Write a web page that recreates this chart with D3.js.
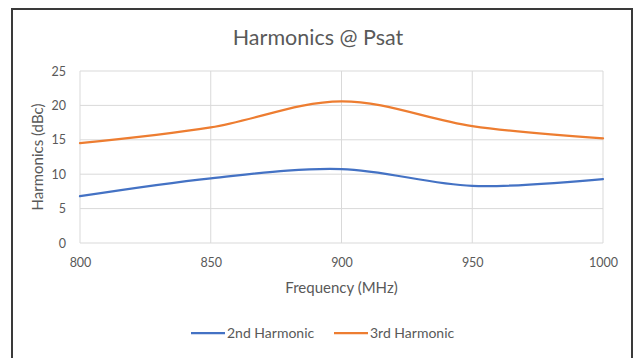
<!DOCTYPE html>
<html>
<head>
<meta charset="utf-8">
<script src="https://cdn.jsdelivr.net/npm/d3@7"></script>
<style>
  html, body { margin: 0; padding: 0; background: #fff; }
  svg { display: block; }
  text { font-family: Lato, "Open Sans", sans-serif; fill: #595959; }
</style>
</head>
<body>
<svg id="chart" width="636" height="358"></svg>
<script>
// Frequency points (MHz) and harmonic levels (dBc)
const frequencies = [800, 850, 900, 950, 1000];
const harmonic2 = [6.8, 9.4, 10.75, 8.3, 9.3];
const harmonic3 = [14.5, 16.8, 20.6, 17.0, 15.2];
const xTicks = [800, 850, 900, 950, 1000];
const yTicks = [0, 5, 10, 15, 20, 25];
const seriesNames = ["2nd Harmonic", "3rd Harmonic"];
const seriesColors = ["#4472C4", "#ED7D31"];

const svg = d3.select("#chart");
const W = 636, H = 358;
const margin = { left: 80, right: 33, top: 71, bottom: 115 };

// Outer chart frame
svg.append("rect")
  .attr("x", 12).attr("y", 9)
  .attr("width", 620).attr("height", 380)
  .attr("fill", "#fff")
  .attr("stroke", "#3a3a3a")
  .attr("stroke-width", 2);

const x = d3.scaleLinear().domain([800, 1000]).range([margin.left, W - margin.right]);
const y = d3.scaleLinear().domain([0, 25]).range([H - margin.bottom, margin.top]);

// Gridlines
const grid = svg.append("g");
grid.selectAll("line.h").data(yTicks).join("line")
  .attr("x1", x(800)).attr("x2", x(1000))
  .attr("y1", d => y(d)).attr("y2", d => y(d))
  .attr("stroke", "#d9d9d9").attr("stroke-width", 1);
grid.selectAll("line.v").data(xTicks).join("line")
  .attr("x1", d => x(d)).attr("x2", d => x(d))
  .attr("y1", y(0)).attr("y2", y(25))
  .attr("stroke", "#d9d9d9").attr("stroke-width", 1);

// Axes (labels only)
const xAxis = svg.append("g")
  .attr("transform", `translate(0,${y(0)})`)
  .call(d3.axisBottom(x).tickValues(xTicks).tickFormat(d3.format("d")).tickSize(0).tickPadding(15));
const yAxis = svg.append("g")
  .attr("transform", `translate(${x(800)},0)`)
  .call(d3.axisLeft(y).tickValues(yTicks).tickSize(0).tickPadding(14));
[xAxis, yAxis].forEach(g => {
  g.select(".domain").remove();
  g.selectAll("text").attr("font-size", 12.5).attr("fill", "#595959")
    .attr("font-family", "Lato, 'Open Sans', sans-serif");
});

// Series lines
const line = d3.line()
  .x(d => x(d[0]))
  .y(d => y(d[1]))
  .curve(d3.curveCardinal.tension(0));
[harmonic2, harmonic3].forEach((vals, i) => {
  svg.append("path")
    .datum(frequencies.map((f, j) => [f, vals[j]]))
    .attr("fill", "none")
    .attr("stroke", seriesColors[i])
    .attr("stroke-width", 2.25)
    .attr("stroke-linecap", "round")
    .attr("d", line);
});

// Title
svg.append("text")
  .attr("x", 318).attr("y", 45)
  .attr("text-anchor", "middle")
  .attr("font-size", 21.5)
  .text("Harmonics @ Psat");

// Axis titles
svg.append("text")
  .attr("x", (x(800) + x(1000)) / 2).attr("y", 293)
  .attr("text-anchor", "middle")
  .attr("font-size", 15)
  .text("Frequency (MHz)");
svg.append("text")
  .attr("transform", `translate(43,${(y(0) + y(25)) / 2}) rotate(-90)`)
  .attr("text-anchor", "middle")
  .attr("font-size", 15)
  .text("Harmonics (dBc)");

// Legend
const legendItems = [
  { x: 191, name: seriesNames[0], color: seriesColors[0] },
  { x: 334, name: seriesNames[1], color: seriesColors[1] }
];
const lg = svg.append("g");
legendItems.forEach(it => {
  lg.append("line")
    .attr("x1", it.x).attr("x2", it.x + 34)
    .attr("y1", 333).attr("y2", 333)
    .attr("stroke", it.color).attr("stroke-width", 2.25);
  lg.append("text")
    .attr("x", it.x + 36).attr("y", 338)
    .attr("font-size", 14)
    .text(it.name);
});
</script>
</body>
</html>
